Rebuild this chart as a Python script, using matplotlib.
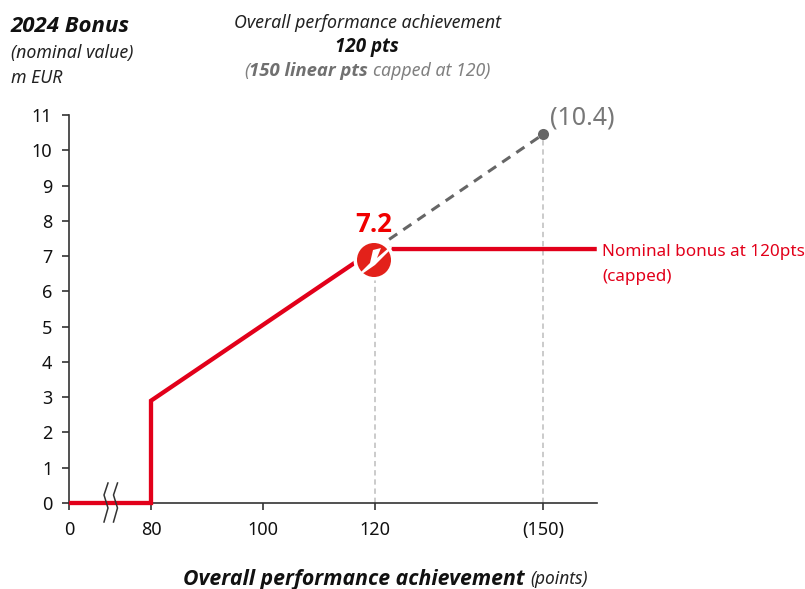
import numpy as np
import matplotlib
matplotlib.use('Agg')
import matplotlib.pyplot as plt
from matplotlib.patches import Circle, Polygon

plt.rcParams['font.family'] = ['Noto Sans', 'DejaVu Sans']
BOLD = ['Open Sans', 'DejaVu Sans']

# data
bonus_x = [0, 80, 80, 120, 159.6]
bonus_y = [0, 0, 2.9, 7.2, 7.2]
linear_x = [120, 150]
linear_y = [7.2, 10.45]
x_ticks = [0, 80, 100, 120, 150]
x_labels = ['0', '80', '100', '120', '(150)']
y_ticks = list(range(12))

RED = '#e2001a'
GREY = '#666666'
DARK = '#333333'
W, H = 805, 589


def fx(px):
    return px / W


def fy(py):
    return 1 - py / H


# x axis is broken between 0 and 80
def forward(x):
    x = np.asarray(x, dtype=float)
    return np.where(x < 80, x * 82 / 80, 82 + (x - 80) * 5.6)


def inverse(v):
    v = np.asarray(v, dtype=float)
    return np.where(v < 82, v * 80 / 82, 80 + (v - 82) / 5.6)


fig = plt.figure(figsize=(W / 100, H / 100), dpi=100)
ax = fig.add_axes([fx(69), fy(503), (597 - 69) / W, (503 - 115) / H])
ax.set_xscale('function', functions=(forward, inverse))
ax.set_xlim(0, 80 + (597 - 151) / 5.6)
ax.set_ylim(0, 11)
ax.spines[['top', 'right']].set_visible(False)
ax.spines[['left', 'bottom']].set_color(DARK)
ax.spines[['left', 'bottom']].set_linewidth(1.2)
ax.set_xticks(x_ticks, labels=x_labels)
ax.set_yticks(y_ticks)
ax.minorticks_off()
ax.tick_params(axis='both', length=5, width=1.2, color=DARK, labelsize=13, labelcolor='#111111')
ax.tick_params(axis='x', pad=8)
ax.tick_params(axis='y', pad=7)

# guides
ax.plot([120, 120], [0, 6.5], color='#bdbdbd', lw=1.1, ls=(0, (3.5, 2.5)))
ax.plot([150, 150], [0, 10.4], color='#bdbdbd', lw=1.1, ls=(0, (3.5, 2.5)))

ax.plot(linear_x, linear_y, color=GREY, lw=2.2, ls=(0, (3.2, 2.4)), zorder=3)
ax.plot(linear_x[-1:], linear_y[-1:], 'o', color=GREY, ms=8, mec='none', zorder=4)
ax.plot(bonus_x, bonus_y, color=RED, lw=3.1, solid_joinstyle='miter', solid_capstyle='butt',
        clip_on=False, zorder=5)

fig.text(fx(550), fy(118), '(10.4)', color='#777777', fontsize=18, va='center', ha='left')
fig.text(fx(374), fy(225), '7.2', color='#f00000', fontsize=18.5, fontweight='bold', family=BOLD,
         ha='center', va='center')
fig.text(fx(602), fy(252), 'Nominal bonus at 120pts', color=RED, fontsize=12.3, va='center')
fig.text(fx(602), fy(277), '(capped)', color=RED, fontsize=12.3, va='center')

# axis break marks
for dx in [0, 9.5]:
    px = np.array([108, 104, 108, 104]) + dx
    py = np.array([483, 495, 508, 522])
    fig.add_artist(plt.Line2D(fx(px), fy(py), color=DARK, lw=1.1))

# logo, in pixel coordinates
logo = fig.add_axes([fx(352), fy(282), 44 / W, 44 / H])
logo.set_xlim(352, 396)
logo.set_ylim(282, 238)
logo.axis('off')
logo.add_patch(Circle((374, 260), 20.5, color='white', lw=0))
logo.add_patch(Circle((374, 260), 17, color='#e3211a', lw=0))
logo.add_patch(Polygon([(360, 273), (370, 263), (373, 250), (381, 248), (377, 258), (391, 246),
                        (392, 248), (375, 265), (362, 274)], color='white', lw=0))


# mixed-style text run, centred on cx
def mixed(cx, py, parts):
    rend = fig.canvas.get_renderer()
    items = [fig.text(0, fy(py), s, fontsize=size, style='italic', color=c, va='center',
                      **({'fontweight': 'bold', 'family': BOLD} if w == 'bold' else {}))
             for s, w, c, size in parts]
    widths = [t.get_window_extent(rend).width for t in items]
    left = cx - sum(widths) / 2
    for t, wd in zip(items, widths):
        t.set_x(fx(left))
        left += wd


fig.text(fx(11), fy(27), '2024 Bonus', fontsize=16, style='italic', fontweight='bold', family=BOLD,
         color='#111111', va='center')
fig.text(fx(11), fy(53), '(nominal value)', fontsize=12.8, style='italic', color='#222222', va='center')
fig.text(fx(11), fy(78), 'm EUR', fontsize=12.8, style='italic', color='#222222', va='center')

mixed(367, 23, [('Overall performance achievement', 'normal', '#222222', 12.8)])
mixed(367, 47, [('120 pts', 'bold', '#111111', 13.5)])
mixed(367, 71, [('(', 'normal', '#808080', 12.8), ('150 linear pts ', 'bold', '#707070', 13.3),
                ('capped at 120)', 'normal', '#808080', 12.8)])
mixed(385, 579, [('Overall performance achievement ', 'bold', '#111111', 15.3),
                 ('(points)', 'normal', '#222222', 12.5)])
fig.savefig('out.png', dpi=100)
